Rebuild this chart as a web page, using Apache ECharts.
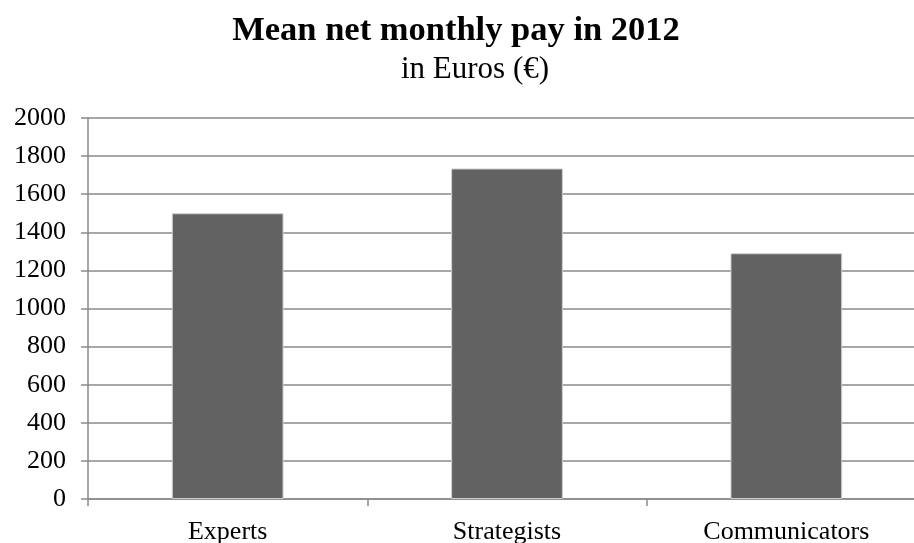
<!DOCTYPE html>
<html>
<head>
<meta charset="utf-8">
<script src="https://cdn.jsdelivr.net/npm/echarts@6/dist/echarts.min.js"></script>
<style>
  html, body { margin: 0; padding: 0; background: #fff; }
  #chart { width: 914px; height: 543px; }
</style>
</head>
<body>
<div id="chart"></div>
<script>
// Mean net monthly pay per professional group, 2012 (EUR)
const categories = ['Experts', 'Strategists', 'Communicators'];
const payValues = [1500, 1735, 1290];
const yTicks = { min: 0, max: 2000, interval: 200 };

const SERIF = '"Liberation Serif", "Times New Roman", serif';
const LINE = '#8a8a8a';

const chart = echarts.init(document.getElementById('chart'), null, { renderer: 'canvas' });

chart.setOption({
  backgroundColor: '#ffffff',
  animation: false,
  title: [{
    text: 'Mean net monthly pay in 2012',
    left: 451,
    top: 9,
    textAlign: 'center',
    textStyle: { fontFamily: SERIF, fontSize: 34.5, fontWeight: 'bold', color: '#000' }
  }, {
    text: 'in Euros (€)',
    left: 470,
    top: 49,
    textAlign: 'center',
    textStyle: { fontFamily: SERIF, fontSize: 31, fontWeight: 'normal', color: '#000' }
  }],
  // plot area runs a little past the right edge of the canvas
  grid: { left: 88, top: 118, bottom: 44, right: -12, containLabel: false, outerBoundsMode: 'none' },
  xAxis: {
    type: 'category',
    data: categories,
    boundaryGap: true,
    axisLine: { show: true, lineStyle: { color: LINE, width: 1.5 } },
    axisTick: { show: true, length: 7, lineStyle: { color: LINE, width: 1.5 } },
    axisLabel: { fontFamily: SERIF, fontSize: 26, color: '#000', margin: 20 },
    splitLine: { show: false }
  },
  yAxis: {
    type: 'value',
    min: yTicks.min,
    max: yTicks.max,
    interval: yTicks.interval,
    axisLine: { show: true, lineStyle: { color: LINE, width: 1.5 } },
    axisTick: { show: true, length: 7, lineStyle: { color: LINE, width: 1.5 } },
    axisLabel: {
      fontFamily: SERIF, fontSize: 26, color: '#000', margin: 22,
      formatter: v => String(v)
    },
    splitLine: { show: true, lineStyle: { color: LINE, width: 1.5 } }
  },
  series: [{
    type: 'bar',
    data: payValues,
    barWidth: '40%',
    itemStyle: { color: '#626262', borderColor: '#cfcfcf', borderWidth: 1 }
  }]
});
</script>
</body>
</html>
